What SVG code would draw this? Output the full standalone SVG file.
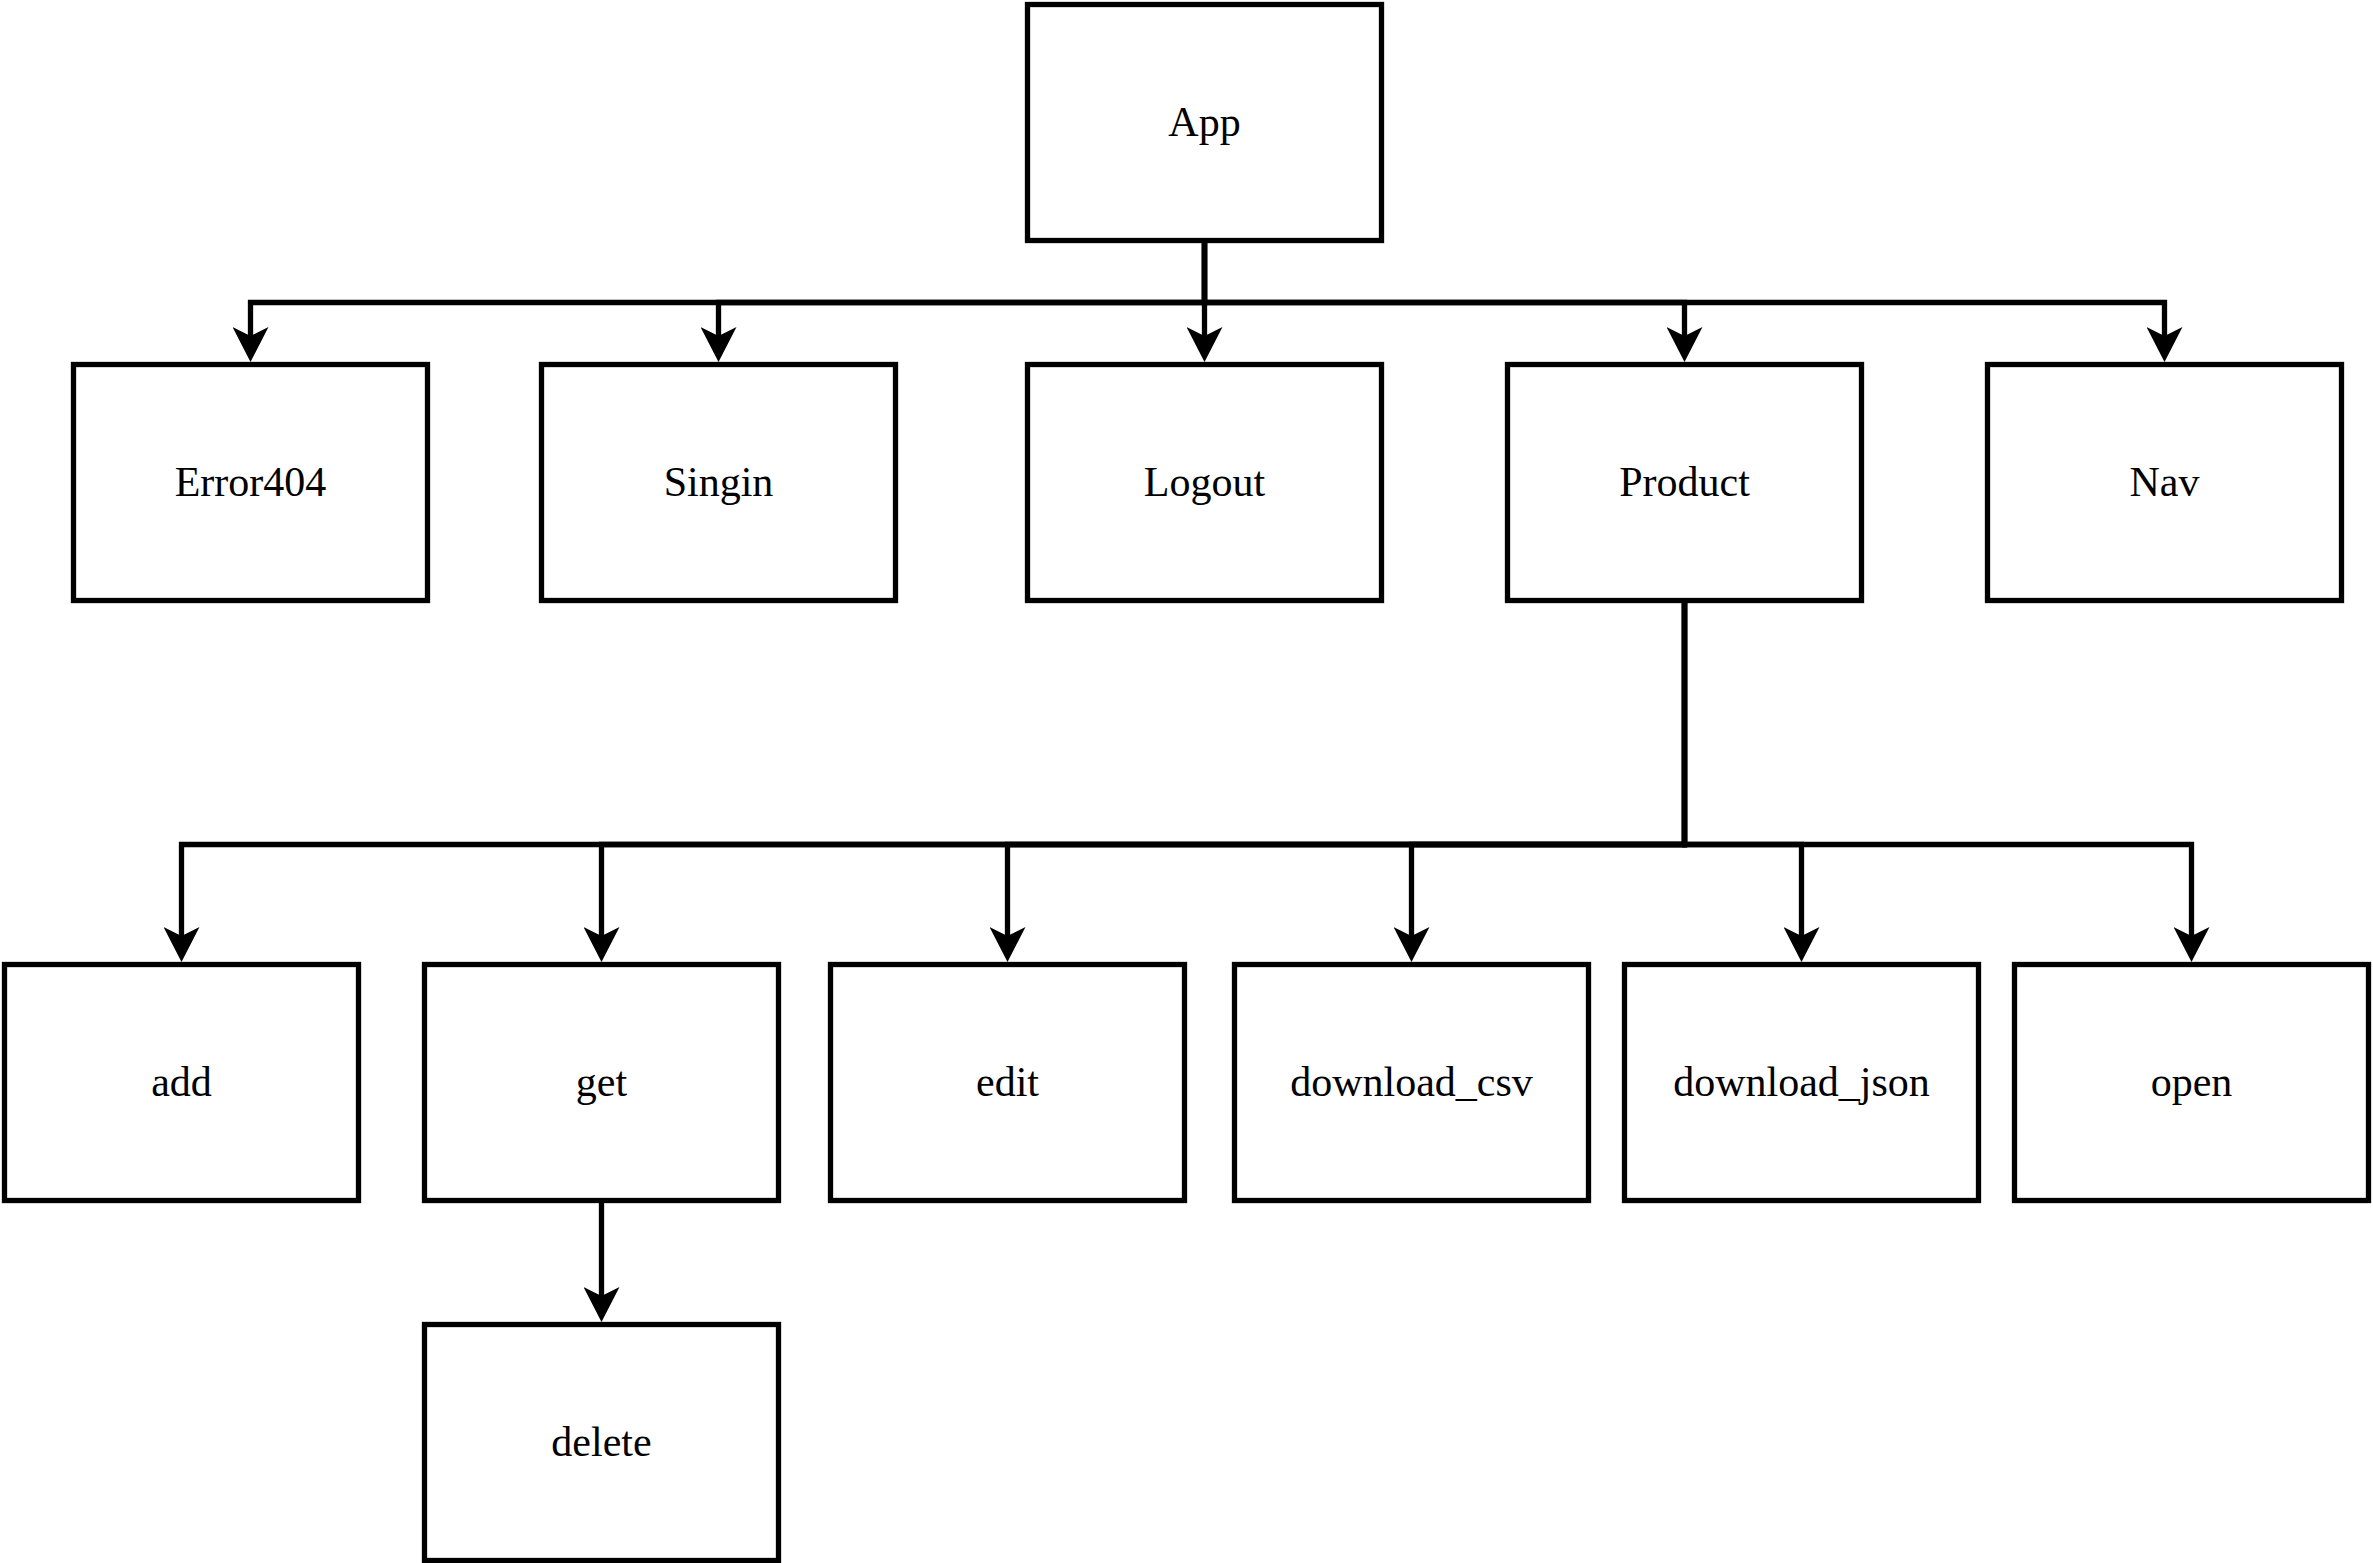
<svg xmlns="http://www.w3.org/2000/svg" width="2373" height="1563" viewBox="0 0 2373 1563">
<style>
.box{fill:#ffffff;stroke:#000000;stroke-width:5.3}
.lbl{font-family:"Liberation Serif","Times New Roman",serif;font-size:42px;fill:#000000;text-anchor:middle}
.edge{fill:none;stroke:#000000;stroke-width:5.3;stroke-linejoin:miter;marker-end:url(#arr)}
</style>
<defs>
<marker id="arr" markerUnits="userSpaceOnUse" viewBox="0 -18 36 36" markerWidth="36" markerHeight="36" refX="9" refY="0" orient="auto">
<path d="M0,-18 L35,0 L0,18 L9,0 Z" fill="#000000"/>
</marker>
</defs>
<rect width="2373" height="1563" fill="#ffffff"/>
<g id="connectors">
<path class="edge" d="M1204.5,240.5 V336"/>
<path class="edge" d="M1204.5,240.5 V302.5 H250.5 V336"/>
<path class="edge" d="M1204.5,240.5 V302.5 H718.5 V336"/>
<path class="edge" d="M1204.5,240.5 V302.5 H1684.5 V336"/>
<path class="edge" d="M1204.5,240.5 V302.5 H2164.5 V336"/>
<path class="edge" d="M1684.5,600.5 V844.5 H181.5 V936"/>
<path class="edge" d="M1684.5,600.5 V844.5 H601.5 V936"/>
<path class="edge" d="M1684.5,600.5 V844.5 H1007.5 V936"/>
<path class="edge" d="M1684.5,600.5 V844.5 H1411.5 V936"/>
<path class="edge" d="M1684.5,600.5 V844.5 H1801.5 V936"/>
<path class="edge" d="M1684.5,600.5 V844.5 H2191.5 V936"/>
<path class="edge" d="M601.5,1200.5 V1296"/>
</g>
<g id="node-app"><rect class="box" x="1027.5" y="4.5" width="354" height="236"/><text class="lbl" x="1204.5" y="135.5">App</text></g>
<g id="node-error404"><rect class="box" x="73.5" y="364.5" width="354" height="236"/><text class="lbl" x="250.5" y="495.5">Error404</text></g>
<g id="node-singin"><rect class="box" x="541.5" y="364.5" width="354" height="236"/><text class="lbl" x="718.5" y="495.5">Singin</text></g>
<g id="node-logout"><rect class="box" x="1027.5" y="364.5" width="354" height="236"/><text class="lbl" x="1204.5" y="495.5">Logout</text></g>
<g id="node-product"><rect class="box" x="1507.5" y="364.5" width="354" height="236"/><text class="lbl" x="1684.5" y="495.5">Product</text></g>
<g id="node-nav"><rect class="box" x="1987.5" y="364.5" width="354" height="236"/><text class="lbl" x="2164.5" y="495.5">Nav</text></g>
<g id="node-add"><rect class="box" x="4.5" y="964.5" width="354" height="236"/><text class="lbl" x="181.5" y="1095.5">add</text></g>
<g id="node-get"><rect class="box" x="424.5" y="964.5" width="354" height="236"/><text class="lbl" x="601.5" y="1095.5">get</text></g>
<g id="node-edit"><rect class="box" x="830.5" y="964.5" width="354" height="236"/><text class="lbl" x="1007.5" y="1095.5">edit</text></g>
<g id="node-download-csv"><rect class="box" x="1234.5" y="964.5" width="354" height="236"/><text class="lbl" x="1411.5" y="1095.5">download_csv</text></g>
<g id="node-download-json"><rect class="box" x="1624.5" y="964.5" width="354" height="236"/><text class="lbl" x="1801.5" y="1095.5">download_json</text></g>
<g id="node-open"><rect class="box" x="2014.5" y="964.5" width="354" height="236"/><text class="lbl" x="2191.5" y="1095.5">open</text></g>
<g id="node-delete"><rect class="box" x="424.5" y="1324.5" width="354" height="236"/><text class="lbl" x="601.5" y="1455.5">delete</text></g>
</svg>
